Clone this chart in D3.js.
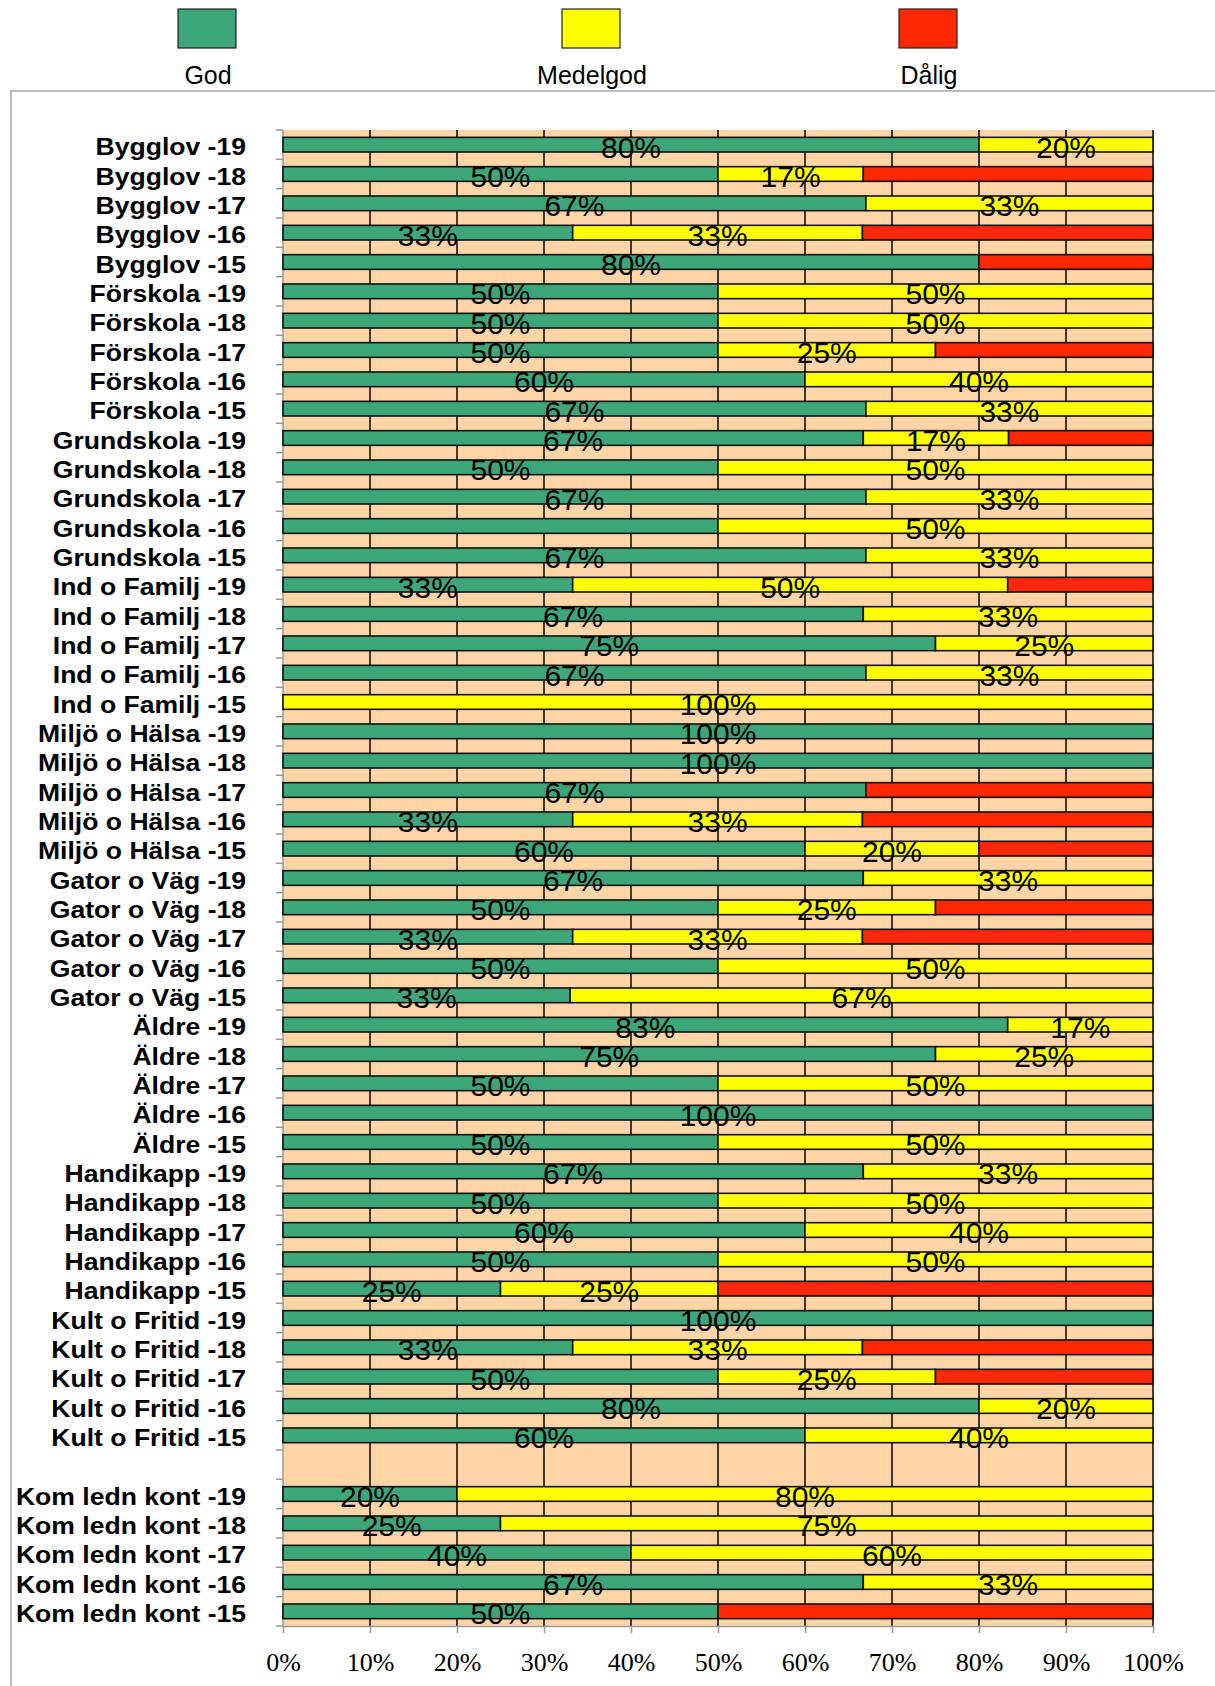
<!DOCTYPE html>
<html><head><meta charset="utf-8">
<script src="https://cdn.jsdelivr.net/npm/d3@7"></script>
<style>body{margin:0;background:#fff}</style>
</head><body><svg id="c" width="1215" height="1686"></svg>
<script>
const categories = [
  "Bygglov -19","Bygglov -18","Bygglov -17","Bygglov -16","Bygglov -15",
  "Förskola -19","Förskola -18","Förskola -17","Förskola -16","Förskola -15",
  "Grundskola -19","Grundskola -18","Grundskola -17","Grundskola -16","Grundskola -15",
  "Ind o Familj -19","Ind o Familj -18","Ind o Familj -17","Ind o Familj -16","Ind o Familj -15",
  "Miljö o Hälsa -19","Miljö o Hälsa -18","Miljö o Hälsa -17","Miljö o Hälsa -16","Miljö o Hälsa -15",
  "Gator o Väg -19","Gator o Väg -18","Gator o Väg -17","Gator o Väg -16","Gator o Väg -15",
  "Äldre -19","Äldre -18","Äldre -17","Äldre -16","Äldre -15",
  "Handikapp -19","Handikapp -18","Handikapp -17","Handikapp -16","Handikapp -15",
  "Kult o Fritid -19","Kult o Fritid -18","Kult o Fritid -17","Kult o Fritid -16","Kult o Fritid -15",
  "",
  "Kom ledn kont -19","Kom ledn kont -18","Kom ledn kont -17","Kom ledn kont -16","Kom ledn kont -15"
];
const god = [80,50,67,33.3,80, 50,50,50,60,67, 66.7,50,67,50,67, 33.3,66.7,75,67,0, 100,100,67,33.3,60,
  66.7,50,33.3,50,33, 83.3,75,50,100,50, 66.7,50,60,50,25, 100,33.3,50,80,60, 0, 20,25,40,66.7,50];
const medelgod = [20,16.7,33,33.3,0, 50,50,25,40,33, 16.7,50,33,50,33, 50,33.3,25,33,100, 0,0,0,33.3,20,
  33.3,25,33.3,50,67, 16.7,25,50,0,50, 33.3,50,40,50,25, 0,33.3,25,20,40, 0, 80,75,60,33.3,0];
const dalig = [0,33.3,0,33.4,20, 0,0,25,0,0, 16.6,0,0,0,0, 16.7,0,0,0,0, 0,0,33,33.4,20,
  0,25,33.4,0,0, 0,0,0,0,0, 0,0,0,0,50, 0,33.4,25,0,0, 0, 0,0,0,0,50];
const seriesNames = ["God","Medelgod","Dålig"];
const seriesColors = ["#3EA77A","#FFFF00","#FF2800"];
const xTicks = [0,10,20,30,40,50,60,70,80,90,100];
const labelledSeries = ["God","Medelgod"];
const hiddenLabels = [["Grundskola -16","God"]];

const rows = categories.map((c,i)=>({idx:i, cat:c, God:god[i], Medelgod:medelgod[i], "Dålig":dalig[i]}));
const stacked = d3.stack().keys(seriesNames)(rows);

const svg = d3.select("#c");
const W = 1215, H = 1686;
const x0 = 283, x1 = 1153, y0 = 130, y1 = 1626;
const x = d3.scaleLinear().domain([0,100]).range([x0,x1]);
const rowScale = d3.scaleBand().domain(d3.range(categories.length)).range([y0,y1]).padding(0);
const step = rowScale.step();
const barY = i => rowScale(i) + step*0.25;
const barH = step*0.5;
const color = d3.scaleOrdinal().domain(seriesNames).range(seriesColors);

// outer border
svg.append("rect").attr("x",11).attr("y",91).attr("width",W+20).attr("height",H+20)
  .attr("fill","none").attr("stroke","#a6a6a6").attr("stroke-width",1.5);

// plot background
svg.append("rect").attr("x",x0).attr("y",y0).attr("width",x1-x0).attr("height",y1-y0).attr("fill","#FFD5A8");

// vertical gridlines
svg.append("g").selectAll("line").data(xTicks.filter(d=>d>0)).join("line")
  .attr("x1",d=>x(d)).attr("x2",d=>x(d)).attr("y1",y0).attr("y2",y1)
  .attr("stroke","#111").attr("stroke-width",1.6);

// left axis (row boundaries)
const lg = svg.append("g");
lg.append("line").attr("x1",x0).attr("x2",x0).attr("y1",y0).attr("y2",y1).attr("stroke","#999").attr("stroke-width",1.5);
lg.selectAll("line.t").data(d3.range(categories.length+1)).join("line").attr("class","t")
  .attr("x1",x0-7).attr("x2",x0).attr("y1",i=>y0+i*step).attr("y2",i=>y0+i*step)
  .attr("stroke","#999").attr("stroke-width",1.5);

// bars
svg.append("g").selectAll("g").data(stacked).join("g").attr("fill",d=>color(d.key))
  .selectAll("rect").data(d=>d.filter(s=>s[1]-s[0]>0)).join("rect")
  .attr("x",d=>x(d[0])).attr("width",d=>x(d[1])-x(d[0]))
  .attr("y",d=>barY(d.data.idx)).attr("height",barH)
  .attr("stroke","#111").attr("stroke-width",1.6);

// bottom axis
const xAxis = d3.axisBottom(x).tickValues(xTicks).tickFormat(d=>d+"%").tickSize(7).tickSizeOuter(0);
const ax = svg.append("g").attr("transform",`translate(0,${y1})`).call(xAxis);
ax.select(".domain").attr("stroke","#999").attr("stroke-width",1.5);
ax.selectAll(".tick line").attr("stroke","#999").attr("stroke-width",1.5);
ax.selectAll(".tick text").attr("y",45).attr("dy",0)
  .attr("font-family","'Liberation Serif','Times New Roman',serif").attr("font-size",26).attr("fill","#000");

// category labels
svg.append("g").selectAll("text").data(rows).join("text")
  .attr("transform",d=>`translate(246,${rowScale(d.idx)+step/2+10.7}) scale(1.155,1)`)
  .attr("text-anchor","end")
  .attr("font-family","'Liberation Sans',Arial,sans-serif").attr("font-weight","bold").attr("font-size",23)
  .attr("fill","#000").text(d=>d.cat);

// value labels
const labelData = [];
stacked.forEach(s=>{
  if(!labelledSeries.includes(s.key)) return;
  s.forEach(seg=>{
    const v = seg[1]-seg[0];
    if(v<=0) return;
    if(hiddenLabels.some(h=>h[0]===seg.data.cat && h[1]===s.key)) return;
    labelData.push({x:(seg[0]+seg[1])/2, idx:seg.data.idx, v});
  });
});
svg.append("g").selectAll("text").data(labelData).join("text")
  .attr("x",d=>x(d.x)).attr("y",d=>barY(d.idx)+barH/2+13)
  .attr("text-anchor","middle")
  .attr("font-family","'Liberation Sans',Arial,sans-serif").attr("font-size",30).attr("fill","#000")
  .text(d=>Math.round(d.v)+"%");

// legend
const legendX = [207,591,928];
const lgd = svg.append("g").selectAll("g").data(seriesNames).join("g")
  .attr("transform",(d,i)=>`translate(${legendX[i]},0)`);
lgd.append("rect").attr("x",-29).attr("y",9).attr("width",58).attr("height",39)
  .attr("fill",d=>color(d)).attr("stroke","#222").attr("stroke-width",1.2);
lgd.append("text").attr("x",1).attr("y",84).attr("text-anchor","middle")
  .attr("font-family","'Liberation Sans',Arial,sans-serif").attr("font-size",25).attr("fill","#000")
  .text(d=>d);
</script>
</body></html>
